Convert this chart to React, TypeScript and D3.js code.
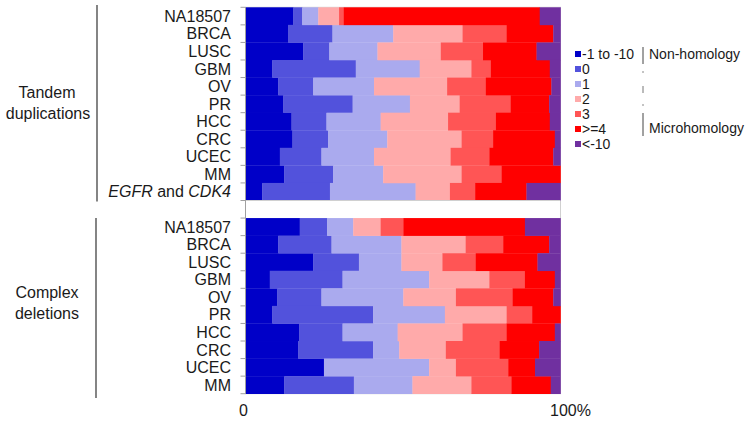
import React from "react";
import * as d3 from "d3";

const tandemCategories = ["NA18507", "BRCA", "LUSC", "GBM", "OV", "PR", "HCC", "CRC", "UCEC", "MM", "EGFR and CDK4"];
const deletionCategories = ["NA18507", "BRCA", "LUSC", "GBM", "OV", "PR", "HCC", "CRC", "UCEC", "MM"];

const seriesKeys = ["-1 to -10", "0", "1", "2", "3", ">=4", "<-10"];

// Tandem duplications (percent)
const tdNeg1to10 = [15.1, 13.5, 18.3, 8.5, 10.4, 12.0, 14.6, 14.9, 10.9, 12.3, 5.3];
const tdZero = [2.9, 14.1, 8.3, 26.5, 11.1, 22.0, 11.1, 11.3, 13.2, 15.5, 21.5];
const tdOne = [5.1, 19.3, 15.3, 20.3, 19.3, 18.2, 17.2, 18.8, 16.7, 15.9, 27.2];
const tdTwo = [6.6, 22.0, 20.1, 16.4, 23.2, 15.8, 21.4, 23.6, 24.3, 24.9, 10.9];
const tdThree = [1.5, 14.0, 13.4, 6.2, 12.3, 16.2, 15.2, 10.0, 12.3, 12.7, 8.0];
const tdFourPlus = [62.2, 14.8, 17.0, 18.7, 20.8, 12.2, 17.1, 19.6, 20.3, 18.7, 16.3];
const tdNegOver10 = [6.6, 2.3, 7.6, 3.4, 2.9, 3.6, 3.4, 1.8, 2.3, 0, 10.8];

// Complex deletions (percent)
const cdNeg1to10 = [17.2, 10.4, 21.5, 7.7, 10.1, 8.5, 17.0, 16.7, 24.9, 12.3];
const cdZero = [8.7, 16.9, 14.5, 23.1, 14.0, 32.0, 13.8, 23.8, 0, 22.1];
const cdOne = [8.3, 22.2, 13.5, 27.5, 26.0, 22.8, 17.5, 8.3, 33.4, 18.6];
const cdTwo = [8.7, 20.4, 13.0, 19.1, 16.7, 19.6, 20.6, 14.8, 8.5, 18.7];
const cdThree = [7.2, 11.9, 10.6, 11.3, 18.0, 8.1, 14.0, 17.1, 16.6, 12.7];
const cdFourPlus = [38.6, 14.6, 19.6, 9.5, 12.9, 9.0, 15.3, 12.5, 8.5, 12.5];
const cdNegOver10 = [11.3, 3.6, 7.3, 1.8, 2.3, 0, 1.8, 6.8, 8.1, 3.1];

const xTicks = [0, 100];
const xTickLabels = ["0", "100%"];

const colors = ["#0000c8", "#5252dc", "#aaaaee", "#ffaaaa", "#ff5555", "#ff0000", "#7030a0"];

type Row = { slot: string; label: string; group: string; [k: string]: any };

const tdSeries = [tdNeg1to10, tdZero, tdOne, tdTwo, tdThree, tdFourPlus, tdNegOver10];
const cdSeries = [cdNeg1to10, cdZero, cdOne, cdTwo, cdThree, cdFourPlus, cdNegOver10];

const rows: Row[] = [];
tandemCategories.forEach((c, i) => {
  const r: Row = { slot: "t" + i, label: c, group: "t" };
  seriesKeys.forEach((k, j) => (r[k] = tdSeries[j][i]));
  rows.push(r);
});
const gapRow: Row = { slot: "gap", label: "", group: "gap" };
seriesKeys.forEach((k) => (gapRow[k] = 0));
rows.push(gapRow);
deletionCategories.forEach((c, i) => {
  const r: Row = { slot: "d" + i, label: c, group: "d" };
  seriesKeys.forEach((k, j) => (r[k] = cdSeries[j][i]));
  rows.push(r);
});

export default function App() {
  const W = 750, H = 425;
  const x0 = 245.5, x1 = 560.5;
  const yTop = 7.3, yBot = 393.7;
  const x = d3.scaleLinear().domain([0, 100]).range([x0, x1]);
  const y = d3.scaleBand<string>().domain(rows.map((r) => r.slot)).range([yTop, yBot]).padding(0);
  const stack = d3.stack<Row>().keys(seriesKeys);
  const stacked = stack(rows);
  const font = "Arial, 'Liberation Sans', sans-serif";
  const textColor = "#1a1a1a";
  const bw = y.bandwidth();
  const boundaries = d3.range(rows.length + 1).map((i) => yTop + i * bw);

  const gapY = y("gap")!;

  return (
    <svg width={W} height={H} style={{ position: "absolute", left: 0, top: 0 }} fontFamily={font}>
      <rect x={0} y={0} width={W} height={H} fill="#ffffff" />
      {/* plot border */}
      <rect x={x0} y={yTop} width={x1 - x0} height={yBot - yTop} fill="none" stroke="#d0d0d0" strokeWidth={1} />
      {stacked.map((s, si) => (
        <g key={s.key} fill={colors[si]}>
          {s.map((d, di) =>
            d[1] - d[0] > 0 ? (
              <rect
                key={di}
                x={x(d[0])}
                y={y(d.data.slot)!}
                width={x(d[1]) - x(d[0]) + 0.3}
                height={bw + 0.3}
              />
            ) : null
          )}
        </g>
      ))}
      <line x1={x0} x2={x1} y1={gapY} y2={gapY} stroke="#d0d0d0" />
      {/* y axis */}
      <line x1={x0} x2={x0} y1={yTop} y2={yBot} stroke="#a0a0a0" />
      {boundaries.map((b, i) => (
        <line key={i} x1={x0 - 5} x2={x0} y1={b} y2={b} stroke="#a0a0a0" />
      ))}
      {/* category labels */}
      {rows.map((r) =>
        r.group === "gap" ? null : (
          <text
            key={r.slot}
            x={231}
            y={y(r.slot)! + bw / 2}
            dy="0.36em"
            textAnchor="end"
            fontSize={16}
            fill={textColor}
          >
            {r.label === "EGFR and CDK4" ? (
              <>
                <tspan fontStyle="italic">EGFR</tspan>
                <tspan> and </tspan>
                <tspan fontStyle="italic">CDK4</tspan>
              </>
            ) : (
              r.label
            )}
          </text>
        )
      )}
      {/* x tick labels */}
      {xTicks.map((t, i) => (
        <text key={t} x={x(t) + (i === 0 ? -2 : 10)} y={416} textAnchor="middle" fontSize={16} fill={textColor}>
          {xTickLabels[i]}
        </text>
      ))}
      {/* group brackets */}
      <line x1={97} x2={97} y1={5} y2={201.5} stroke="#333" strokeWidth={1.2} />
      <line x1={96} x2={96} y1={218} y2={398} stroke="#333" strokeWidth={1.2} />
      <text x={47} y={98} textAnchor="middle" fontSize={16} fill={textColor}>Tandem</text>
      <text x={48} y={119} textAnchor="middle" fontSize={16} fill={textColor}>duplications</text>
      <text x={47} y={298} textAnchor="middle" fontSize={16} fill={textColor}>Complex</text>
      <text x={47} y={319} textAnchor="middle" fontSize={16} fill={textColor}>deletions</text>
      {/* legend */}
      {seriesKeys.map((k, i) => (
        <g key={k} transform={`translate(575, ${54 + i * 15})`}>
          <rect x={0} y={-3} width={6} height={6} fill={colors[i]} />
          <text x={7} y={0} dy="0.36em" fontSize={14} fill={textColor}>{k}</text>
        </g>
      ))}
      <line x1={643} x2={643} y1={47} y2={64} stroke="#444" strokeWidth={1} />
      <line x1={643} x2={643} y1={71} y2={73} stroke="#888" strokeWidth={1} />
      <line x1={643} x2={643} y1={86} y2={93} stroke="#777" strokeWidth={1} />
      <line x1={643} x2={643} y1={104} y2={106} stroke="#888" strokeWidth={1} />
      <line x1={643} x2={643} y1={113} y2={136} stroke="#444" strokeWidth={1} />
      <text x={649} y={54} dy="0.36em" fontSize={14} fill={textColor}>Non-homology</text>
      <text x={649} y={128} dy="0.36em" fontSize={14} fill={textColor}>Microhomology</text>
    </svg>
  );
}
